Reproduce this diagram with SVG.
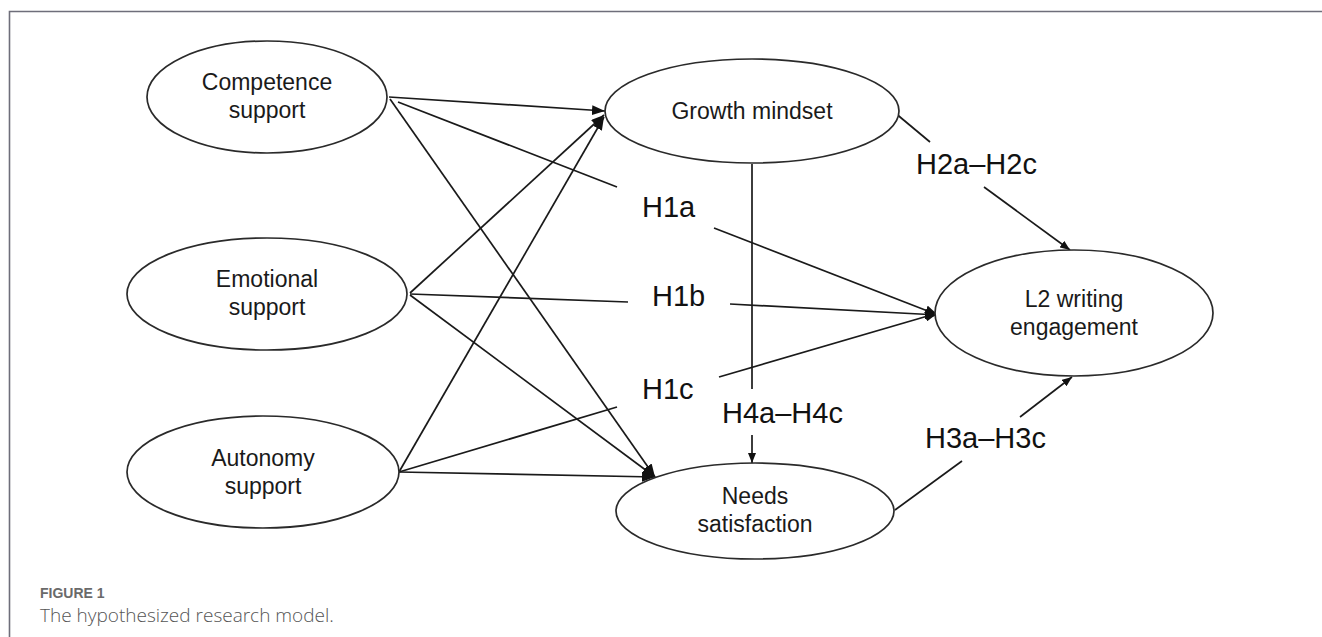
<svg xmlns="http://www.w3.org/2000/svg" width="1322" height="637" viewBox="0 0 1322 637">
<defs>
<style>
.node ellipse{fill:#fff;stroke:#2a2a2a;stroke-width:1.7}
.nt{font-family:"Liberation Sans",Arial,sans-serif;font-size:23px;fill:#1a1a1a;text-anchor:middle}
.lbl{font-family:"Liberation Sans",Arial,sans-serif;font-size:29px;fill:#111}
.conn line{stroke:#1a1a1a;stroke-width:1.7;fill:none}
.cap1{font-family:"Liberation Sans",Arial,sans-serif;font-size:14px;font-weight:bold;fill:#6a6a6a}
.cap2{font-family:"Open Sans","Liberation Sans",sans-serif;font-size:19px;font-weight:300;fill:#555}
</style>
<marker id="ah" viewBox="0 0 13 10" refX="13" refY="5" markerWidth="13" markerHeight="10" markerUnits="userSpaceOnUse" orient="auto">
<path d="M0,0 L13,5 L0,10 z" fill="#111"/>
</marker>
<marker id="ahs" viewBox="0 0 10 8" refX="10" refY="4" markerWidth="10" markerHeight="8" markerUnits="userSpaceOnUse" orient="auto">
<path d="M0,0 L10,4 L0,8 z" fill="#111"/>
</marker>
</defs>
<rect width="1322" height="637" fill="#fff"/>
<g id="frame">
<path d="M9.5,637 L9.5,11.5 L1322,11.5" fill="none" stroke="#6e6e7a" stroke-width="1.6"/>
</g>
<g id="connectors" class="conn">
<line x1="389" y1="97" x2="605" y2="111" marker-end="url(#ah)"/>
<line x1="398" y1="102" x2="617" y2="187"/>
<line x1="390" y1="99" x2="655" y2="477" marker-end="url(#ah)"/>
<line x1="410" y1="293" x2="604" y2="115" marker-end="url(#ah)"/>
<line x1="410" y1="294" x2="628" y2="302"/>
<line x1="410" y1="295" x2="655" y2="477" marker-end="url(#ah)"/>
<line x1="399" y1="472" x2="604" y2="117" marker-end="url(#ah)"/>
<line x1="399" y1="472" x2="617" y2="407"/>
<line x1="399" y1="472" x2="655" y2="477" marker-end="url(#ah)"/>
<line x1="714" y1="228" x2="938" y2="315" marker-end="url(#ah)"/>
<line x1="730" y1="304" x2="938" y2="315" marker-end="url(#ah)"/>
<line x1="719" y1="377" x2="938" y2="313" marker-end="url(#ah)"/>
<line x1="894" y1="112" x2="930" y2="142"/>
<line x1="984" y1="187" x2="1070" y2="250" marker-end="url(#ahs)"/>
<line x1="752" y1="164" x2="752" y2="389"/>
<line x1="752" y1="435" x2="752" y2="463" marker-end="url(#ahs)"/>
<line x1="895" y1="510" x2="962" y2="461"/>
<line x1="1020" y1="417" x2="1072" y2="377" marker-end="url(#ahs)"/>
</g>
<g id="labels">
<text class="lbl" x="642" y="217">H1a</text>
<text class="lbl" x="652" y="306">H1b</text>
<text class="lbl" x="642" y="399">H1c</text>
<text class="lbl" x="916" y="174">H2a–H2c</text>
<text class="lbl" x="722" y="423">H4a–H4c</text>
<text class="lbl" x="925" y="448">H3a–H3c</text>
</g>
<g id="competence" class="node">
<ellipse cx="267" cy="97" rx="120" ry="56"/>
<text class="nt" x="267" y="90">Competence</text>
<text class="nt" x="267" y="118">support</text>
</g>
<g id="emotional" class="node">
<ellipse cx="267" cy="294" rx="140" ry="56"/>
<text class="nt" x="267" y="287">Emotional</text>
<text class="nt" x="267" y="315">support</text>
</g>
<g id="autonomy" class="node">
<ellipse cx="263" cy="472" rx="136" ry="56"/>
<text class="nt" x="263" y="466">Autonomy</text>
<text class="nt" x="263" y="494">support</text>
</g>
<g id="growth" class="node">
<ellipse cx="752" cy="111" rx="147" ry="52"/>
<text class="nt" x="752" y="119">Growth mindset</text>
</g>
<g id="l2" class="node">
<ellipse cx="1074" cy="313" rx="139" ry="63"/>
<text class="nt" x="1074" y="307">L2 writing</text>
<text class="nt" x="1074" y="335">engagement</text>
</g>
<g id="needs" class="node">
<ellipse cx="755" cy="511" rx="139" ry="48"/>
<text class="nt" x="755" y="504">Needs</text>
<text class="nt" x="755" y="532">satisfaction</text>
</g>
<g id="caption">
<text class="cap1" x="40" y="598">FIGURE 1</text>
<text class="cap2" x="40" y="622">The hypothesized research model.</text>
</g>
</svg>
